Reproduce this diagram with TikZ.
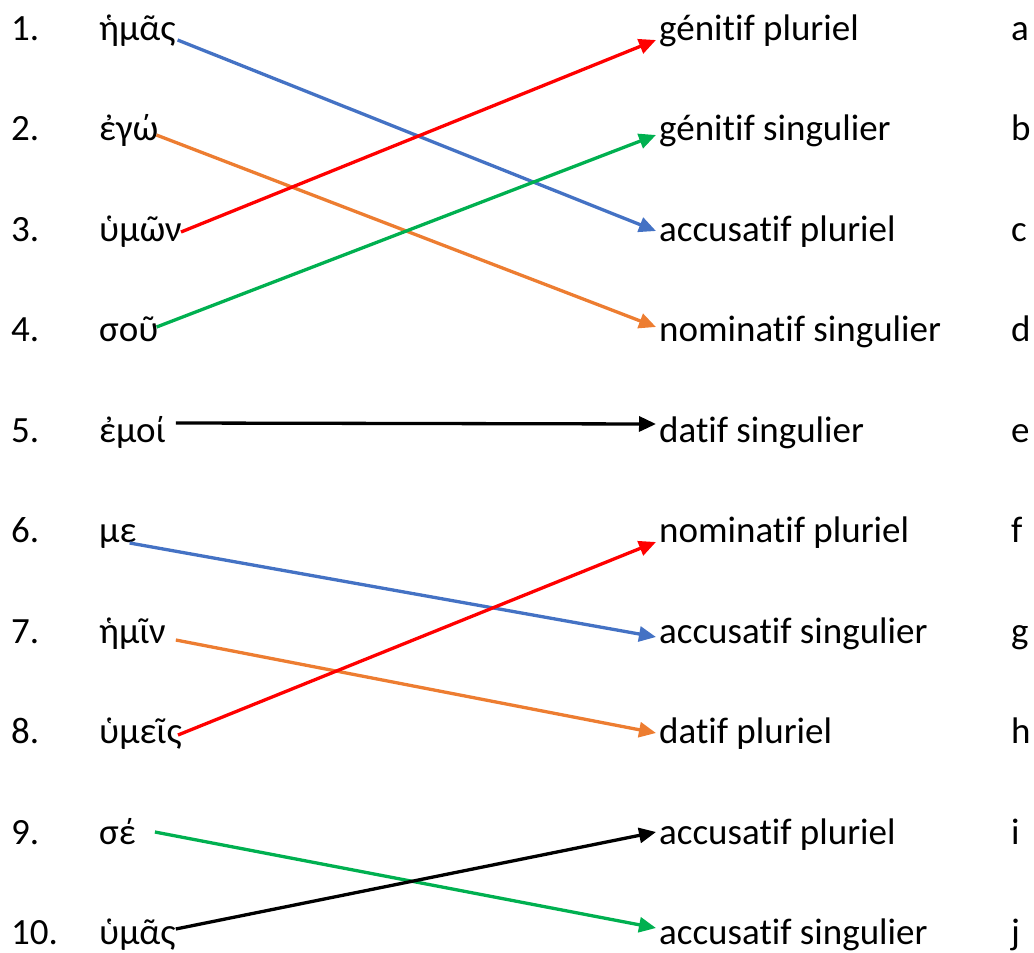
\documentclass[tikz,border=0pt]{standalone}
\usepackage{fontspec}
\setmainfont{Carlito}[Ligatures={NoCommon, NoContextual}, Contextuals=NoAlternate]
\usetikzlibrary{arrows.meta, calc, positioning}
\definecolor{lineblue}{HTML}{4472C4}
\definecolor{lineorange}{HTML}{ED7D31}
\definecolor{linered}{HTML}{FF0000}
\definecolor{linegreen}{HTML}{00B050}

\begin{document}
\begin{tikzpicture}[x=1pt, y=-1pt,
    every node/.style={inner sep=0pt, anchor=base west, font=\fontsize{37}{44}\selectfont},
    link/.style={line width=3.3pt, -{Triangle[length=17pt, width=15pt]}}]
    \useasboundingbox (0, 0) rectangle (1034, 953);

    % numbers
    \node (n1) at (11, 40) {1.};
    \node (n2) at (11, 140) {2.};
    \node (n3) at (11, 241) {3.};
    \node (n4) at (11, 341) {4.};
    \node (n5) at (11, 442) {5.};
    \node (n6) at (11, 542) {6.};
    \node (n7) at (11, 643) {7.};
    \node (n8) at (11, 743) {8.};
    \node (n9) at (11, 844) {9.};
    \node (n10) at (11, 944) {10.};

    % greek forms
    \node (g1) at (99, 40) {ἡμᾶς};
    \node (g2) at (99, 140) {ἐγώ};
    \node (g3) at (99, 241) {ὑμῶν};
    \node (g4) at (99, 341) {σοῦ};
    \node (g5) at (99, 442) {ἐμοί};
    \node (g6) at (99, 542) {με};
    \node (g7) at (99, 643) {ἡμῖν};
    \node (g8) at (99, 743) {ὑμεῖς};
    \node (g9) at (99, 844) {σέ};
    \node (g10) at (99, 944) {ὑμᾶς};

    % cases
    \node (c1) at (659, 40) {génitif pluriel};
    \node (c2) at (659, 140) {génitif singulier};
    \node (c3) at (659, 241) {accusatif pluriel};
    \node (c4) at (659, 341) {nominatif singulier};
    \node (c5) at (659, 442) {datif singulier};
    \node (c6) at (659, 542) {nominatif pluriel};
    \node (c7) at (659, 643) {accusatif singulier};
    \node (c8) at (659, 743) {datif pluriel};
    \node (c9) at (659, 844) {accusatif pluriel};
    \node (c10) at (659, 944) {accusatif singulier};

    % letters
    \node (k1) at (1011, 40) {a};
    \node (k2) at (1011, 140) {b};
    \node (k3) at (1011, 241) {c};
    \node (k4) at (1011, 341) {d};
    \node (k5) at (1011, 442) {e};
    \node (k6) at (1011, 542) {f};
    \node (k7) at (1011, 643) {g};
    \node (k8) at (1011, 743) {h};
    \node (k9) at (1011, 844) {i};
    \node (k10) at (1011, 944) {j};

    \draw[link, lineblue] ([shift={(2pt, 0pt)}]g1.base east) -- ([shift={(-3pt, 10pt)}]c3.base west);
    \draw[link, lineorange] ([shift={(-2pt, 5pt)}]g2.base east) -- ([shift={(-3pt, 14pt)}]c4.base west);
    \draw[link, linered] ([shift={(-1pt, 9pt)}]g3.base east) -- ([shift={(-3pt, 0pt)}]c1.base west);
    \draw[link, linegreen] ([shift={(-2pt, 14pt)}]g4.base east) -- ([shift={(-3pt, 5pt)}]c2.base west);
    \draw[link] ([shift={(10pt, 19pt)}]g5.base east) -- ([shift={(-3pt, 18pt)}]c5.base west);
    \draw[link, lineblue] ([shift={(-7pt, -1pt)}]g6.base east) -- ([shift={(-3pt, 6pt)}]c7.base west);
    \draw[link, lineorange] ([shift={(10pt, 3pt)}]g7.base east) -- ([shift={(-3pt, 10pt)}]c8.base west);
    \draw[link, linered] ([shift={(-4pt, 8pt)}]g8.base east) -- ([shift={(-3pt, 0pt)}]c6.base west);
    \draw[link, linegreen] ([shift={(19pt, 12pt)}]g9.base east) -- ([shift={(-3pt, 16pt)}]c10.base west);
    \draw[link] ([shift={(0pt, 15pt)}]g10.base east) -- ([shift={(-3pt, 12pt)}]c9.base west);
\end{tikzpicture}
\end{document}
